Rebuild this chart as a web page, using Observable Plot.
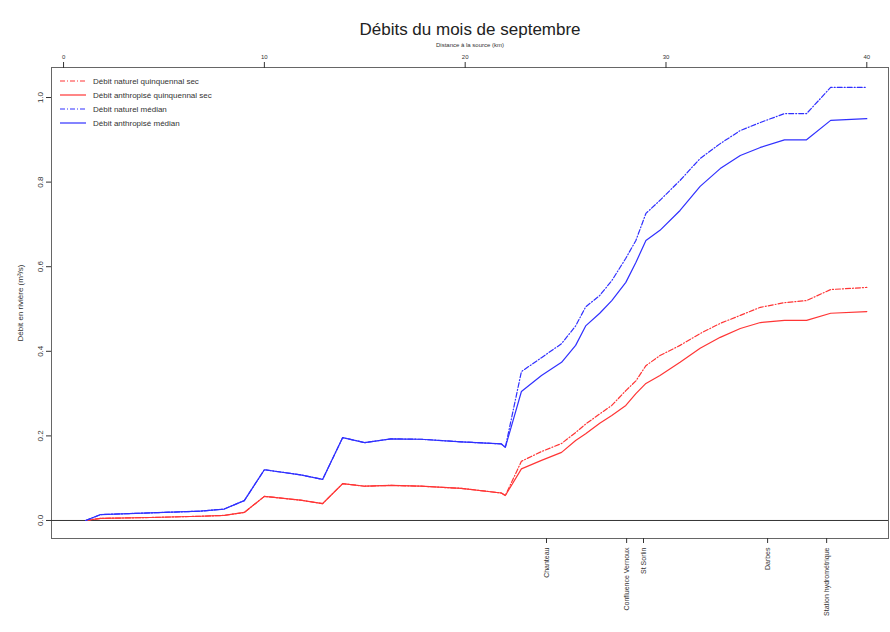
<!DOCTYPE html>
<html>
<head>
<meta charset="utf-8">
<script src="https://cdn.jsdelivr.net/npm/d3@7"></script>
<script src="https://cdn.jsdelivr.net/npm/@observablehq/plot@0.6"></script>
<style>
  html, body { margin: 0; padding: 0; background: white; }
  #wrap { position: relative; width: 890px; height: 632px; font-family: "Liberation Sans", Arial, sans-serif; }
  #legend { position: absolute; left: 60px; top: 74px; font-size: 8px; color: #333; }
  #legend .row { display: flex; align-items: center; height: 14px; }
  #legend svg { width: 26px; height: 6px; margin-right: 7px; }
</style>
</head>
<body>
<div id="wrap"></div>
<script>
// Distance à la source (km)
const distance = [1.1, 1.85, 4.3, 6.8, 8.0, 9.0, 10.0, 11.8, 12.9, 13.9, 15.0, 16.3, 17.8, 19.8, 21.8, 22.0,
  22.8, 23.8, 24.8, 25.5, 26.0, 26.7, 27.3, 28.0, 28.5, 29.0, 29.7, 30.7, 31.7, 32.7, 33.7, 34.7, 35.9, 37.0, 38.2, 40.0];

const naturelQuinquennalSec = [0, 0.005, 0.007, 0.010, 0.012, 0.019, 0.057, 0.048, 0.040, 0.087, 0.081, 0.083, 0.081, 0.076, 0.065, 0.059,
  0.140, 0.163, 0.182, 0.208, 0.228, 0.252, 0.272, 0.307, 0.330, 0.366, 0.390, 0.414, 0.442, 0.466, 0.485, 0.504, 0.515, 0.520, 0.546, 0.551];
const anthropiseQuinquennalSec = [0, 0.005, 0.007, 0.010, 0.012, 0.019, 0.057, 0.048, 0.040, 0.087, 0.081, 0.083, 0.081, 0.076, 0.065, 0.059,
  0.122, 0.142, 0.161, 0.189, 0.205, 0.230, 0.248, 0.272, 0.300, 0.324, 0.343, 0.374, 0.407, 0.433, 0.454, 0.468, 0.473, 0.473, 0.490, 0.494];
const naturelMedian = [0, 0.014, 0.018, 0.022, 0.027, 0.047, 0.120, 0.108, 0.097, 0.196, 0.184, 0.193, 0.192, 0.186, 0.181, 0.173,
  0.352, 0.385, 0.418, 0.460, 0.505, 0.532, 0.567, 0.620, 0.662, 0.726, 0.757, 0.804, 0.856, 0.891, 0.922, 0.941, 0.962, 0.962, 1.024, 1.024];
const anthropiseMedian = [0, 0.014, 0.018, 0.022, 0.027, 0.047, 0.120, 0.108, 0.097, 0.196, 0.184, 0.193, 0.192, 0.186, 0.181, 0.173,
  0.305, 0.343, 0.374, 0.414, 0.460, 0.490, 0.520, 0.563, 0.610, 0.662, 0.686, 0.733, 0.790, 0.832, 0.863, 0.882, 0.900, 0.900, 0.946, 0.950];

const seriesNames = ["Débit naturel quinquennal sec", "Débit anthropisé quinquennal sec", "Débit naturel médian", "Débit anthropisé médian"];
const seriesValues = [naturelQuinquennalSec, anthropiseQuinquennalSec, naturelMedian, anthropiseMedian];
const seriesColors = ["#ff3535", "#ff3535", "#3030ff", "#3030ff"];
const seriesDashed = [true, false, true, false];

// Axis ticks
const topTicks = [0, 10, 20, 30, 40];
const yTicks = [0, 0.2, 0.4, 0.6, 0.8, 1.0];
const placeKm = [24.05, 28.04, 28.88, 35.06, 38.0];
const placeNames = ["Chanteau", "Confluence Vernoux", "St Sorlin", "Darbes", "Station hydrométrique"];

const title = "Débits du mois de septembre";

const data = seriesNames.flatMap((name, s) =>
  distance.map((d, i) => ({series: name, km: d, q: seriesValues[s][i]})));

const lineMarks = seriesNames.map((name, s) =>
  Plot.line(data.filter(d => d.series === name), {
    x: "km", y: "q",
    stroke: seriesColors[s], strokeWidth: 1.2,
    strokeDasharray: seriesDashed[s] ? "5,2,1,2" : null
  }));

const chart = Plot.plot({
  width: 890, height: 632,
  marginTop: 67, marginBottom: 94, marginLeft: 51, marginRight: 2,
  x: {domain: [-0.6, 41.08]},
  y: {domain: [-0.0426, 1.071]},
  style: {fontFamily: "Liberation Sans, Arial, sans-serif", background: "white", color: "#333"},
  marks: [
    Plot.frame({stroke: "#666"}),
    Plot.ruleY([0], {stroke: "#333"}),
    Plot.axisX({anchor: "top", ticks: topTicks, tickSize: 6, fontSize: 6,
      label: "Distance à la source (km)", labelAnchor: "center", labelArrow: "none", labelOffset: 25}),
    Plot.axisX({anchor: "bottom", ticks: placeKm, tickFormat: (d, i) => placeNames[i],
      tickRotate: -90, tickSize: 5, fontSize: 7, label: null}),
    Plot.axisY({anchor: "left", ticks: yTicks, tickFormat: d3.format(".1f"), tickRotate: -90,
      tickSize: 5, fontSize: 8, label: "Débit en rivière (m³/s)", labelAnchor: "center", labelArrow: "none", labelOffset: 34}),
    ...lineMarks,
    Plot.text([title], {frameAnchor: "top", dy: -45, fontSize: 17, fill: "#222"})
  ]
});

const wrap = document.getElementById("wrap");
wrap.appendChild(chart);

const legend = document.createElement("div");
legend.id = "legend";
seriesNames.forEach((name, s) => {
  const row = document.createElement("div");
  row.className = "row";
  row.innerHTML = `<svg><line x1="0" y1="3" x2="26" y2="3" stroke="${seriesColors[s]}" stroke-width="1.2" ${seriesDashed[s] ? 'stroke-dasharray="5,2,1,2"' : ''}/></svg><span>${name}</span>`;
  legend.appendChild(row);
});
wrap.appendChild(legend);
</script>
</body>
</html>
